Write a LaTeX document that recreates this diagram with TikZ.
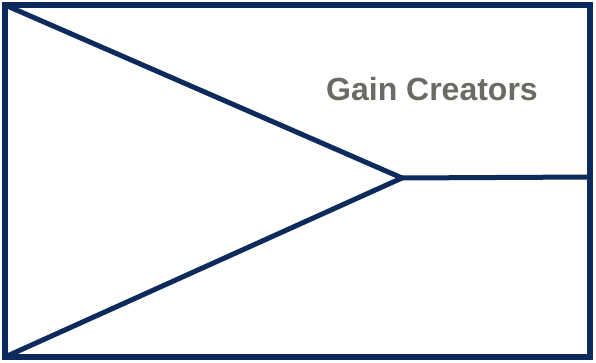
\documentclass[tikz,border=0pt]{standalone}
\usepackage{fontspec}
\setmainfont{Liberation Sans}
\usetikzlibrary{positioning, calc}
\definecolor{navy}{HTML}{0D2A5C}
\definecolor{labelgray}{HTML}{6B6A63}
\tikzset{
    frame line/.style={draw=navy, line width=6pt},
    split line/.style={draw=navy, line width=5pt, line join=round},
    gain label/.style={font=\bfseries\fontsize{32}{38}\selectfont, text=labelgray, inner sep=0pt},
}

\begin{document}
\begin{tikzpicture}[x=1pt, y=-1pt]
    \useasboundingbox (0,0) rectangle (596,363);
    \coordinate (tl) at (5,5);
    \coordinate (bl) at (5,357);
    \coordinate (br) at (590,357);
    \coordinate (apex) at (402,178);
    \coordinate (exit) at (590,177);
    % the fork
    \draw[split line] (tl) -- (apex) -- (bl);
    \draw[split line] (apex) -- (exit);
    \draw[frame line] (tl) rectangle (br);
    \node[gain label] (gain) at (432,89) {Gain Creators};
\end{tikzpicture}
\end{document}
